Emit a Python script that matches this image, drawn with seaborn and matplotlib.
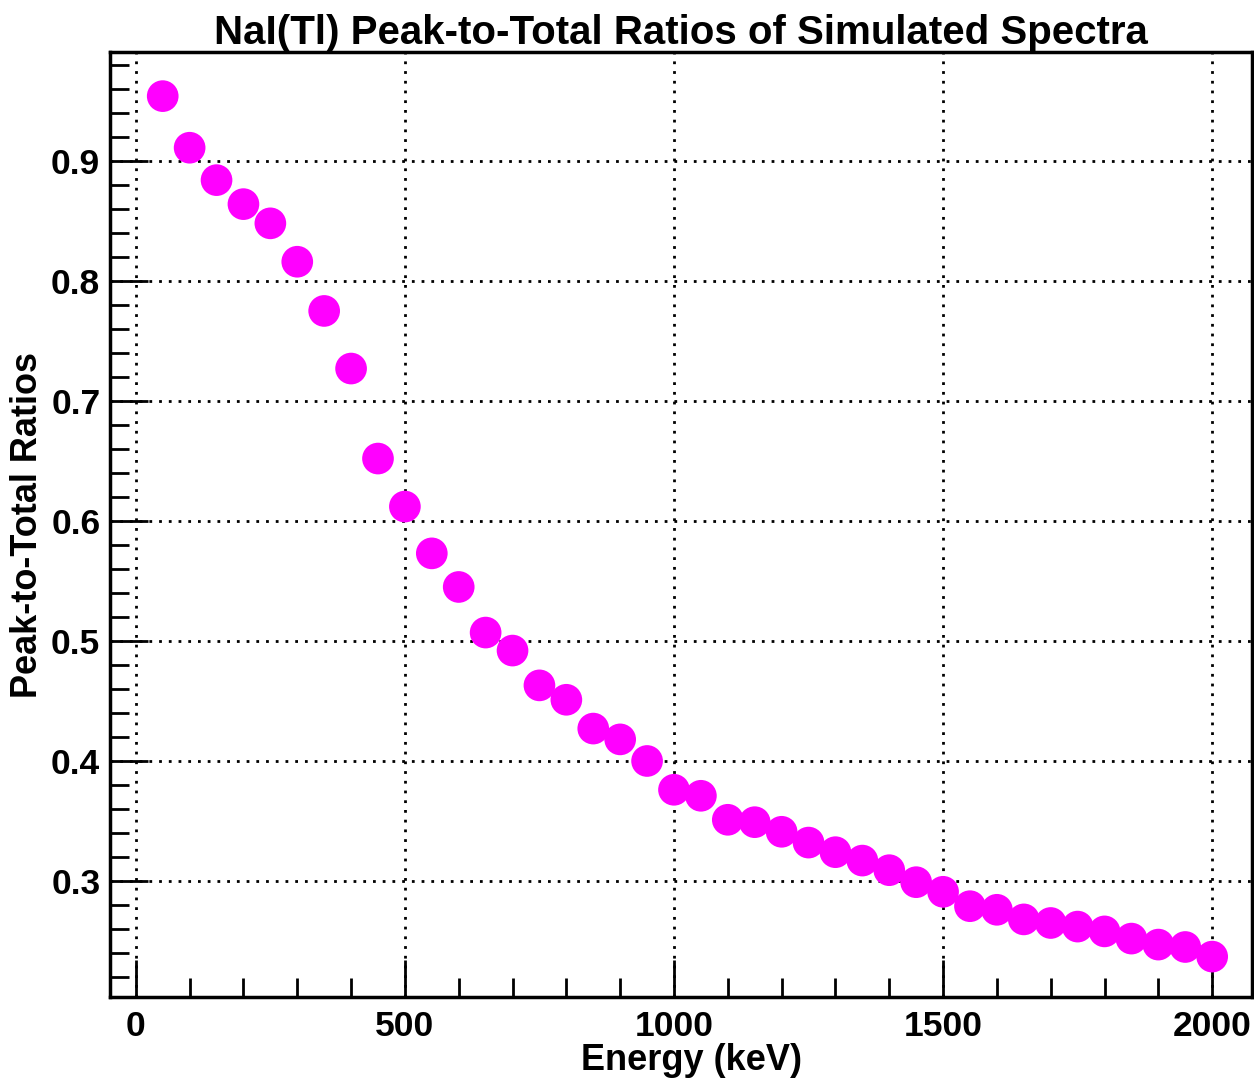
import numpy as np
import pandas as pd
import matplotlib
matplotlib.use("Agg")
import matplotlib.pyplot as plt
import seaborn as sns
from matplotlib.ticker import MultipleLocator

# Simulated NaI(Tl) peak-to-total ratios
energy_kev = [50, 100, 150, 200, 250, 300, 350, 400, 450, 500,
              550, 600, 650, 700, 750, 800, 850, 900, 950, 1000,
              1050, 1100, 1150, 1200, 1250, 1300, 1350, 1400, 1450, 1500,
              1550, 1600, 1650, 1700, 1750, 1800, 1850, 1900, 1950, 2000]
peak_to_total = [0.954, 0.911, 0.884, 0.864, 0.848, 0.816, 0.775, 0.727, 0.652, 0.612,
                 0.573, 0.545, 0.507, 0.492, 0.463, 0.451, 0.427, 0.418, 0.400, 0.376,
                 0.371, 0.351, 0.349, 0.341, 0.332, 0.324, 0.317, 0.309, 0.299, 0.291,
                 0.279, 0.276, 0.268, 0.265, 0.262, 0.258, 0.252, 0.247, 0.245, 0.237]
y_tick_labels = ["0.3", "0.4", "0.5", "0.6", "0.7", "0.8", "0.9"]

df = pd.DataFrame({"Energy": energy_kev, "PTR": peak_to_total})

sns.set_style("ticks")
plt.rcParams["font.family"] = ["Liberation Sans", "DejaVu Sans"]
plt.rcParams["font.weight"] = "bold"
for key in ["text.color", "axes.labelcolor", "xtick.color", "ytick.color"]:
    plt.rcParams[key] = "black"

fig = plt.figure(figsize=(12.54, 10.78), dpi=100)
ax = fig.add_axes([0.0877, 0.0751, 0.9107, 0.8767])

sns.scatterplot(data=df, x="Energy", y="PTR", ax=ax, color="#ff00ff",
                s=520, edgecolor="none", zorder=3)

ax.set_xlim(-48, 2074)
ax.set_ylim(0.2033, 0.9908)

ax.xaxis.set_major_locator(MultipleLocator(500))
ax.xaxis.set_minor_locator(MultipleLocator(100))
ax.yaxis.set_minor_locator(MultipleLocator(0.02))
ax.set_yticks(np.arange(0.3, 0.95, 0.1))
ax.set_yticklabels(y_tick_labels)

ax.tick_params(axis="both", which="major", direction="in", length=27, width=2,
               labelsize=25.5, pad=9)
ax.tick_params(axis="both", which="minor", direction="in", length=14, width=2)
ax.tick_params(axis="y", which="major", pad=7)

ax.grid(True, which="major", color="black", linestyle=(0, (1, 2.5)), linewidth=2)
ax.set_axisbelow(True)

for sp in ax.spines.values():
    sp.set_linewidth(2.5)
    sp.set_color("black")

ax.set_xlabel("Energy (keV)", fontsize=26, fontweight="bold", labelpad=0)
ax.xaxis.label.set_x(0.509)
ax.set_ylabel("Peak-to-Total Ratios", fontsize=26, fontweight="bold", labelpad=4)
ax.set_title("NaI(Tl) Peak-to-Total Ratios of Simulated Spectra",
             fontsize=29, fontweight="bold",
             family=["Liberation Sans Narrow", "Liberation Sans", "DejaVu Sans"],
             pad=6)

fig.savefig("out.png", dpi=100)
